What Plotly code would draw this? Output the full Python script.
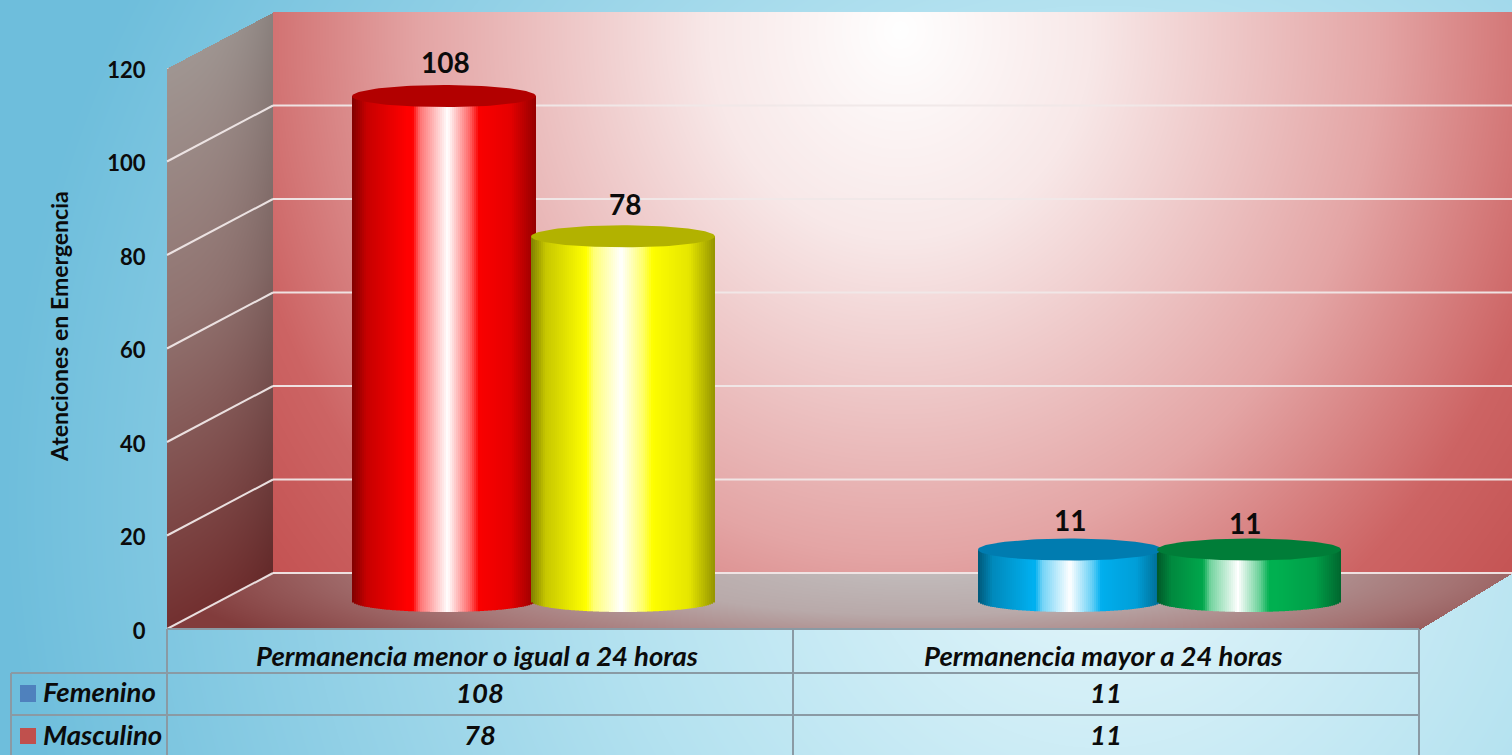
import base64
import struct
import zlib

import numpy as np
import plotly.graph_objects as go

# ---- data ----
categories = ["Permanencia menor o igual a 24 horas", "Permanencia mayor a 24 horas"]
femenino = [108, 11]
masculino = [78, 11]
tick_values = [0, 20, 40, 60, 80, 100, 120]
axis_title = "Atenciones en Emergencia"

# ---- geometry / style ----
W, H = 1512, 755
PX_PER_UNIT = 4.675
BAR_BASE_PX = 601
AXIS0_PX, AXIS120_PX = 629, 68
WALL_DY = 56
RX, RY = 92, 11
STRIP = 2
FONT = "Lato, Carlito, Calibri, sans-serif"
INK = "#0b0b0b"


def lerp_stops(t, stops, channels=3):
    xs = [s[0] for s in stops]
    return np.stack([np.interp(t, xs, [s[1][c] for s in stops]) for c in range(channels)], axis=-1)


def background_png():
    yy, xx = np.mgrid[0:H, 0:W].astype(float)
    # page
    t = np.sqrt((xx - 1100) ** 2 + (yy - 500) ** 2) / 1100
    img = lerp_stops(t, [(0, (232, 248, 252)), (0.45, (180, 226, 240)), (1, (110, 190, 220))])
    # back wall
    mask = (xx >= 273) & (yy >= 12) & (yy <= 573)
    t = np.sqrt(((xx - 900) / 640) ** 2 + ((yy - 30) / 700) ** 2)
    wall = lerp_stops(t, [(0, (255, 255, 255)), (0.3, (248, 232, 232)), (0.75, (228, 165, 165)),
                          (1.05, (205, 100, 100)), (1.4, (190, 70, 70))])
    img[mask] = wall[mask]
    # side wall
    top = 68 + (xx - 167) * (12 - 68) / (273 - 167)
    bot = 629 + (xx - 167) * (573 - 629) / (273 - 167)
    mask = (xx >= 167) & (xx < 273) & (yy >= top) & (yy <= bot)
    f = (yy - top) / 561
    side = lerp_stops(f, [(0, (160, 150, 146)), (0.45, (145, 115, 112)), (1, (115, 48, 48))])
    side *= (1 - 0.14 * ((xx - 167) / 106) ** 3)[..., None]
    img[mask] = side[mask]
    # floor
    left = 273 + (573 - yy) * (106 / 56)
    right = 1512 + (573 - yy) * (92 / 56)
    mask = (yy > 573) & (yy <= 629) & (xx >= left) & (xx <= right)
    t = np.sqrt(((xx - 920) / 640) ** 2 + ((yy - 565) / 110) ** 2)
    floor = lerp_stops(t, [(0, (195, 190, 190)), (0.45, (185, 170, 170)), (0.85, (165, 115, 115)),
                           (1.0, (150, 90, 90)), (1.2, (130, 60, 60))])
    img[mask] = floor[mask]

    raw = np.clip(img, 0, 255).astype(np.uint8)
    rows = np.concatenate([np.zeros((H, 1), np.uint8), raw.reshape(H, W * 3)], axis=1).tobytes()

    def chunk(tag, payload):
        return (struct.pack(">I", len(payload)) + tag + payload +
                struct.pack(">I", zlib.crc32(tag + payload) & 0xFFFFFFFF))

    png = (b"\x89PNG\r\n\x1a\n" + chunk(b"IHDR", struct.pack(">IIBBBBB", W, H, 8, 2, 0, 0, 0)) +
           chunk(b"IDAT", zlib.compress(rows, 6)) + chunk(b"IEND", b""))
    return "data:image/png;base64," + base64.b64encode(png).decode()


# fraction across the cylinder -> darkening multiplier and white mix
WHITE_F = [-1, -0.19, -0.15, 0, 0.12, 0.17, 2]
WHITE_W = [0, 0, 0.45, 1.0, 0.40, 0, 0]


def strip_color(frac, base, glow):
    s = float(np.interp(frac, [0, 0.08, 0.2, 0.3, 0.65, 0.86, 1.0], [0.5, 0.78, 0.9, 1.0, 1.0, 0.9, 0.58]))
    w = float(np.interp(frac - glow, WHITE_F, WHITE_W))
    rgb = [c * s for c in base]
    rgb = [c + (255 - c) * w for c in rgb]
    return f"rgb({rgb[0]:.0f},{rgb[1]:.0f},{rgb[2]:.0f})"


fig = go.Figure()

cylinders = [
    (444, femenino[0], (255, 0, 0), "#b20000", 445, 34, 0.52, "Femenino"),
    (623, masculino[0], (255, 255, 0), "#b2b200", 625, 32, 0.49, "Masculino"),
    (1070, femenino[1], (0, 176, 240), "#007cb0", 1070, 30, 0.50, "Femenino"),
    (1249, masculino[1], (0, 176, 80), "#007d38", 1245, 27, 0.44, "Masculino"),
]

# trace that carries the visible value axis (lower subplot, below the cylinders)
fig.add_trace(go.Scatter(x=[167, 167], y=[0, 120], yaxis="y", mode="markers",
                         marker=dict(opacity=0, size=1), showlegend=False, hoverinfo="skip"))

t_ell = np.linspace(0, 2 * np.pi, 121)
for cx, value, base_rgb, top_color, label_x, label_dy, glow, name in cylinders:
    xs = np.arange(cx - RX + STRIP / 2, cx + RX, STRIP)
    off = RY * np.sqrt(np.clip(1 - ((xs - cx) / RX) ** 2, 0, 1)) / PX_PER_UNIT
    fig.add_trace(go.Bar(
        x=xs, y=value + off, base=-off, width=[STRIP] * len(xs), name=name, showlegend=False, yaxis="y2",
        marker=dict(color=[strip_color((x - cx + RX) / (2 * RX), base_rgb, glow) for x in xs], line=dict(width=0)),
        hoverinfo="skip"))
    fig.add_trace(go.Scatter(
        x=cx + RX * np.cos(t_ell), y=value + RY / PX_PER_UNIT * np.sin(t_ell), yaxis="y2",
        mode="lines", fill="toself", fillcolor=top_color, line=dict(width=0, color=top_color),
        showlegend=False, hoverinfo="skip"))
    fig.add_annotation(x=label_x, y=value, yref="y2", yshift=label_dy, text=str(value), showarrow=False,
                       font=dict(family=FONT, size=28, color=INK, weight="bold"))

shapes = []
GRID = "rgba(240,232,232,0.95)"
wall_units = WALL_DY / PX_PER_UNIT
for v in tick_values:
    shapes.append(dict(type="line", xref="x", yref="y", x0=167, x1=273, y0=v, y1=v + wall_units,
                       line=dict(color=GRID, width=2), layer="below"))
    shapes.append(dict(type="line", xref="x", yref="y", x0=273, x1=1512, y0=v + wall_units, y1=v + wall_units,
                       line=dict(color=GRID, width=2), layer="below"))


def py(p):
    return 1 - p / H


TABLE = "#8a9aa4"
for x0, y0, x1, y1 in [(167, 629, 167, 755), (793, 629, 793, 755), (1419, 629, 1419, 755), (11, 673, 11, 755),
                       (11, 673, 1419, 673), (11, 715, 1419, 715), (167, 629, 1419, 629)]:
    shapes.append(dict(type="line", xref="x", yref="paper", x0=x0, x1=x1, y0=py(y0), y1=py(y1),
                       line=dict(color=TABLE, width=2), layer="above"))
for y0, y1, col in [(685, 702, "#4f81bd"), (728, 744, "#c0504d")]:
    shapes.append(dict(type="rect", xref="x", yref="paper", x0=20, x1=36, y0=py(y0), y1=py(y1),
                       fillcolor=col, line=dict(width=0), layer="above"))

COLS = [480, 1106]
TXT = dict(family=FONT, size=27.5, color=INK, weight="bold", style="italic")


def table_text(x, y, s, anchor="center"):
    fig.add_annotation(x=x, y=py(y), xref="x", yref="paper", text=s, showarrow=False,
                       xanchor=anchor, yanchor="middle", font=TXT)


for cx, cat, f, m in zip(COLS, categories, femenino, masculino):
    table_text(cx - 3, 655, cat)
    table_text(cx, 692, str(f))
    table_text(cx, 734, str(m))
table_text(41, 691, "Femenino", "left")
table_text(41, 734, "Masculino", "left")

fig.add_annotation(x=59, y=py(327), xref="x", yref="paper", text=axis_title, textangle=-90, showarrow=False,
                   xanchor="center", yanchor="middle", font=dict(family=FONT, size=23, color=INK, weight="bold"))

fig.update_layout(
    width=W, height=H, margin=dict(l=0, r=0, t=0, b=0, pad=0, autoexpand=False), autosize=False,
    barmode="overlay", showlegend=False, paper_bgcolor="#a0d8ea", plot_bgcolor="rgba(0,0,0,0)",
    shapes=shapes,
    images=[dict(source=background_png(), xref="paper", yref="paper", x=0, y=1, sizex=1, sizey=1,
                 xanchor="left", yanchor="top", sizing="stretch", layer="below")],
    xaxis=dict(range=[0, W], visible=False, domain=[0, 1], fixedrange=True),
    yaxis2=dict(range=[-(H - BAR_BASE_PX) / PX_PER_UNIT, BAR_BASE_PX / PX_PER_UNIT], visible=False,
                domain=[0, 1], fixedrange=True),
    yaxis=dict(
        anchor="free", position=167 / W, side="left", range=[0, 120],
        domain=[py(AXIS0_PX), py(AXIS120_PX)], tickvals=tick_values, showgrid=False, zeroline=False,
        showline=False, ticks="outside", ticklen=17, tickcolor="rgba(0,0,0,0)", ticklabelshift=2,
        tickfont=dict(family=FONT, size=22, color=INK, weight="bold"),
        fixedrange=True),
)

fig.write_html("out.html", config={"displayModeBar": False},
               post_script="document.body.style.margin='0';document.body.style.overflow='hidden';")
